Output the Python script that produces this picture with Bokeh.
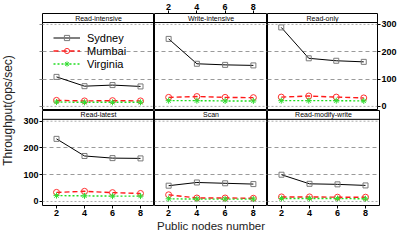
import math
from bokeh.plotting import figure
from bokeh.layouts import row, column
from bokeh.models import Range1d, LinearAxis, FixedTicker, Span, Label
from bokeh.embed import file_html
from bokeh.resources import INLINE

# ---------------- data ----------------
nodes = [2, 4, 6, 8]
workloads = ["Read-intensive", "Write-intensive", "Read-only",
             "Read-latest", "Scan", "Read-modify-write"]
y_ticks = [0, 100, 200, 300]

# one row per workload, in the order of `workloads`
sydney = [
    [108, 74, 78, 73],
    [247, 156, 152, 150],
    [289, 176, 167, 163],
    [234, 170, 162, 161],
    [59, 71, 68, 65],
    [100, 66, 64, 60],
]
mumbai = [
    [22, 20, 21, 20],
    [33, 36, 33, 32],
    [34, 38, 34, 31],
    [34, 38, 33, 30],
    [25, 13, 13, 12],
    [17, 17, 16, 16],
]
virginia = [
    [16, 15, 15, 15],
    [21, 21, 20, 20],
    [21, 21, 21, 20],
    [22, 21, 20, 20],
    [10, 9, 9, 9],
    [11, 11, 11, 10],
]
series_names = ["Sydney", "Mumbai", "Virginia"]

# ---------------- layout / style ----------------
FONT = "Liberation Sans"
YLAB_W = 20
L, R = 22, 20
FW = [112, 113, 112]
T, B = 13, 27
FH = 97
STRIP = 9
Y0, Y1 = -15, 307
strip_units = STRIP * (Y1 - Y0) / (FH - STRIP)
YTOP = Y1 + strip_units

styles = [
    dict(color="black", mcolor="#7a7a7a", dash="solid", width=1.0, marker="square", size=5),
    dict(color="#ff1a1a", mcolor="#ff3030", dash="5 3", width=1.4, marker="circle", size=6),
    dict(color="#22dd22", mcolor="#33dd33", dash="2 2", width=1.4, marker="asterisk", size=6),
]
all_series = [sydney, mumbai, virginia]


def style_axis(ax, ticks):
    ax.ticker = FixedTicker(ticks=ticks)
    ax.axis_line_color = None
    ax.major_tick_out = 3
    ax.major_tick_in = 0
    ax.major_tick_line_color = "black"
    ax.minor_tick_line_color = None
    ax.major_label_text_font = FONT
    ax.major_label_text_font_size = "9px"
    ax.major_label_text_font_style = "bold"
    ax.major_label_text_color = "black"
    ax.major_label_standoff = 1


panels = []
for i, wl in enumerate(workloads):
    r, c = divmod(i, 3)
    left = L if c == 0 else 0
    right = R if c == 2 else 0
    top = T if r == 0 else 0
    bottom = B if r == 1 else 0
    p = figure(width=left + FW[c] + right, height=top + FH + bottom,
               x_range=Range1d(1, 9), y_range=Range1d(Y0, YTOP),
               output_backend="svg", toolbar_location=None, tools="",
               x_axis_location=None, y_axis_location=None,
               min_border_left=left, min_border_right=right,
               min_border_top=top, min_border_bottom=bottom)
    p.background_fill_color = "white"
    p.border_fill_color = "white"
    p.outline_line_color = "black"
    p.outline_line_width = 1
    p.xgrid.grid_line_color = None
    p.ygrid.ticker = FixedTicker(ticks=[100, 200])
    p.ygrid.grid_line_color = "#9a9a9a"
    p.ygrid.grid_line_dash = "4 3"
    for v in (0, 300):
        p.add_layout(Span(location=v, dimension="width", line_color="#aaaaaa",
                          line_dash="2 2", line_width=1))
    # strip title
    p.add_layout(Span(location=Y1, dimension="width", line_color="black", line_width=1))
    p.add_layout(Label(x=5, y=Y1 + strip_units / 2, text=wl, text_align="center",
                       text_baseline="middle", text_font=FONT, text_font_size="7px",
                       text_color="black"))

    for k, name in enumerate(series_names):
        st = styles[k]
        ys = all_series[k][i]
        kw = dict(legend_label=name) if i == 0 else {}
        p.line(nodes, ys, line_color=st["color"], line_width=st["width"],
               line_dash=st["dash"], **kw)
        p.scatter(nodes, ys, marker=st["marker"], size=st["size"],
                  line_color=st["mcolor"], fill_color=None, line_width=1, **kw)

    if i == 0:
        lg = p.legend[0]
        lg.location = (11, 40)
        lg.margin = 0
        lg.padding = 0
        lg.spacing = 0
        lg.glyph_width = 27
        lg.glyph_height = 13
        lg.label_height = 13
        lg.label_standoff = 7
        lg.label_text_font = FONT
        lg.label_text_font_size = "11px"
        lg.label_text_color = "black"
        lg.background_fill_alpha = 0
        lg.border_line_color = None

    if c == 0:
        ax = LinearAxis()
        style_axis(ax, y_ticks)
        if r == 0:
            ax.major_label_text_alpha = 0
            ax.major_tick_line_color = "#888888"
        p.add_layout(ax, "left")
    if c == 2 and r == 0:
        ax = LinearAxis()
        style_axis(ax, y_ticks)
        p.add_layout(ax, "right")
    if r == 0 and c == 1:
        ax = LinearAxis()
        style_axis(ax, nodes)
        p.add_layout(ax, "above")
    if r == 1:
        ax = LinearAxis()
        style_axis(ax, nodes)
        if c == 1:
            ax.axis_label = "Public nodes number"
            ax.axis_label_text_font = FONT
            ax.axis_label_text_font_size = "11.5px"
            ax.axis_label_text_font_style = "normal"
            ax.axis_label_text_color = "#222222"
            ax.axis_label_standoff = 1
        p.add_layout(ax, "below")
    panels.append(p)

H = T + 2 * FH + B
ylab = figure(width=YLAB_W, height=H, x_range=Range1d(0, YLAB_W), y_range=Range1d(0, H),
              output_backend="svg", toolbar_location=None, tools="",
              x_axis_location=None, y_axis_location=None, min_border=0)
ylab.outline_line_color = None
ylab.grid.grid_line_color = None
ylab.add_layout(Label(x=7, y=B + FH, text="Throughput(ops/sec)", angle=math.pi / 2,
                      text_align="center", text_baseline="middle", text_font=FONT,
                      text_font_size="12px", text_color="#222222"))

grid = column(row(*panels[:3]), row(*panels[3:]))
root = row(ylab, grid)

open("out.html", "w").write(file_html(root, INLINE))
